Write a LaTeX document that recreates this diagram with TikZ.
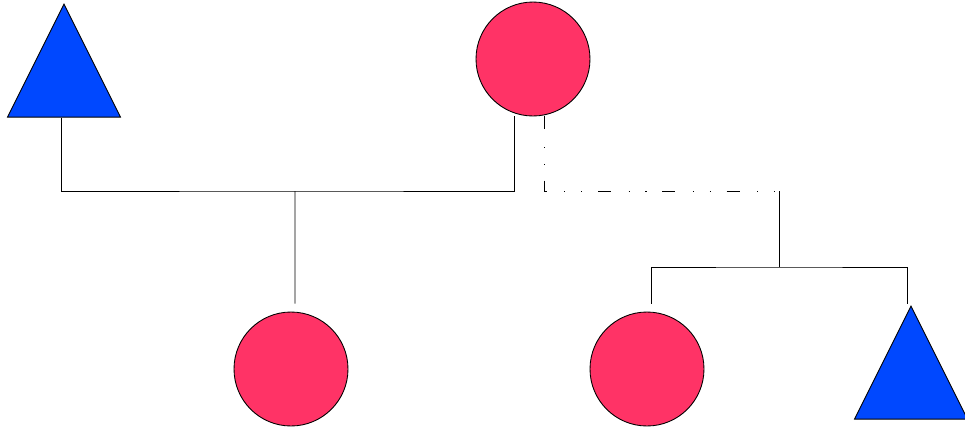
\documentclass[tikz,border=0pt]{standalone}
\usepackage{xcolor}
\usepackage{tikz}
\usetikzlibrary{shapes.geometric}
\definecolor{femred}{HTML}{FF3366}
\definecolor{maleblue}{HTML}{0048FF}

\begin{document}
\begin{tikzpicture}[x=0.02cm, y=-0.02cm, line width=0.5pt,
  female/.style={circle, draw=black, fill=femred, inner sep=0pt, minimum size=2.28cm},
  male/.style={isosceles triangle, isosceles triangle stretches, shape border rotate=90,
      draw=black, fill=maleblue, inner sep=0pt, minimum width=2.26cm, minimum height=2.26cm, anchor=apex},
  kin/.style={draw=black, line width=0.5pt},
  exmate/.style={kin, dash pattern=on 7.4pt off 10pt on 0.6pt off 9pt on 0.6pt off 9pt}]
\useasboundingbox (0,0) rectangle (965,430);
% parents
\node[male] (father) at (64,3) {};
\node[female] (mother) at (533,59) {};
% children
\node[female] (daughter) at (291,369) {};
\node[female] (halfsis) at (647,369) {};
\node[male] (halfbro) at (911,305) {};
% junctions
\coordinate (mate) at (295,191);
\coordinate (exmate) at (779,191);
\coordinate (sibbar) at (779,267);
\draw[kin] ([xshift=-0.06cm]father.lower side) |- (mate) -| ([xshift=-0.38cm]mother.south);
\draw[kin, shorten >=0.16cm] (mate) -- ([xshift=0.08cm]daughter.north);
\draw[exmate] ([xshift=0.22cm]mother.south) |- (exmate);
\draw[kin] (exmate) -- (sibbar);
\draw[kin, shorten <=0.16cm] ([xshift=0.08cm]halfsis.north) |- (sibbar) -| ([xshift=-0.08cm,yshift=0.02cm]halfbro.apex);
\end{tikzpicture}
\end{document}
